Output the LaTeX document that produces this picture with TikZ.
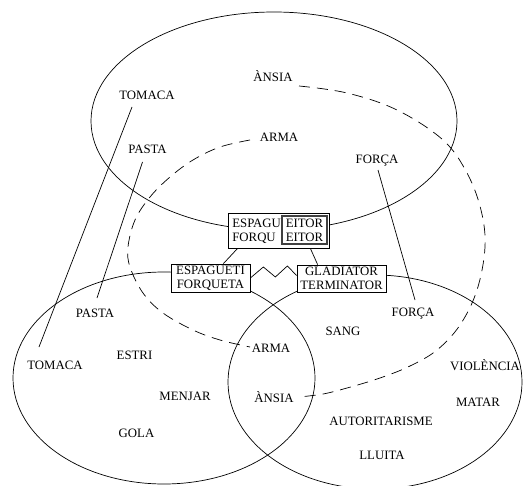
\documentclass[tikz,border=0pt]{standalone}
\usepackage{fontspec}
\setmainfont{Liberation Serif}
\usetikzlibrary{calc}
\begin{document}
\begin{tikzpicture}[x=1pt,y=-1pt, line width=0.7pt,
  lbl/.style={inner sep=0pt, text height=8.5pt, text depth=0pt, font=\fontsize{12.8}{14}\selectfont},
  bx/.style={draw, fill=white, inner sep=0pt, align=center, font=\fontsize{12.8}{14}\selectfont},
  dsh/.style={dash pattern=on 11pt off 7pt}]
\useasboundingbox (0,0) rectangle (529,486);
\clip (0,0) rectangle (529,486);
% ellipses
\draw (274,121) ellipse [x radius=183, y radius=109];
\draw (164,378) ellipse [x radius=151, y radius=106];
\draw (375,382) ellipse [x radius=147, y radius=107];
% broken dashed ellipse
\draw[dsh] plot[smooth, tension=0.6] coordinates {(299,86) (347,93) (397,110) (443,140) (467,173) (481,210) (485,247) (477,290) (460,325) (437,350) (410,366) (380,378) (347,388) (323,394) (299,397)};
\draw[dsh] plot[smooth, tension=0.6] coordinates {(250,140) (220,147) (193,160) (170,177) (150,197) (135,220) (128,247) (130,267) (143,293) (163,313) (193,330) (220,340) (250,347)};
% labels
\node[lbl] (tomA) at (147,95) {TOMACA};
\node[lbl] (pasA) at (147.5,149) {PASTA};
\node[lbl] (ansA) at (273,77) {ÀNSIA};
\node[lbl] (armA) at (279,137) {ARMA};
\node[lbl] (forA) at (377,159) {FORÇA};
\node[lbl] (pasB) at (95,313) {PASTA};
\node[lbl] (tomB) at (55,365) {TOMACA};
\node[lbl] (estri) at (134.5,355) {ESTRI};
\node[lbl] (menjar) at (185,396) {MENJAR};
\node[lbl] (gola) at (136.5,433) {GOLA};
\node[lbl] (armB) at (271,348) {ARMA};
\node[lbl] (ansB) at (274,398) {ÀNSIA};
\node[lbl] (sang) at (343,331) {SANG};
\node[lbl] (forB) at (413,312) {FORÇA};
\node[lbl] (viol) at (485,366) {VIOLÈNCIA};
\node[lbl] (matar) at (478,402) {MATAR};
\node[lbl] (auto) at (381,421) {AUTORITARISME};
\node[lbl] (lluita) at (382,455) {LLUITA};
% straight connectors
\draw ($(tomA)+(-15,12)$) -- ($(tomB)+(-16,-18)$);
\draw ($(pasA)+(-5,13)$) -- ($(pasB)+(2,-15)$);
\draw ($(forA)+(1,11)$) -- ($(forB)+(2,-12)$);
% boxes
\node[bx, minimum width=79pt, minimum height=28pt] (esp) at (210.5,278) {ESPAGUETI\\FORQUETA};
\node[bx, minimum width=89pt, minimum height=27pt] (gla) at (341.5,278.5) {GLADIATOR\\TERMINATOR};
\node[bx, minimum width=101pt, minimum height=35pt] (ctr) at (278.5,230.5) {};
\node[bx, minimum width=45pt, minimum height=28pt, line width=1.1pt, draw=black!75] (eit) at (304.5,230) {EITOR\\EITOR};
\node[anchor=west, inner sep=0pt, align=left, font=\fontsize{12.8}{14}\selectfont] (espf) at (232,231) {ESPAGU\\FORQU};
\draw ($(ctr.south west)+(10,0)$) -- ($(esp.north east)+(-27,0)$);
\draw ($(ctr.south east)+(-19,0)$) -- ($(gla.north west)+(21,0)$);
\draw (esp.east) -- ++(13,-11) -- ++(12,10) -- ++(12,-11) -- ($(gla.west)+(0,-3)$);
\end{tikzpicture}
\end{document}
